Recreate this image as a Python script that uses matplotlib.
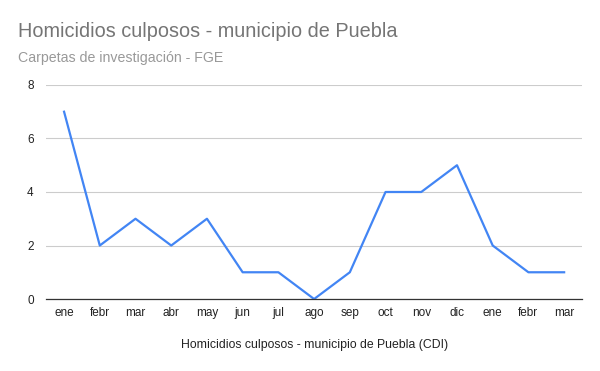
import matplotlib

matplotlib.use("Agg")
import matplotlib.pyplot as plt

plt.rcParams["font.family"] = ["Liberation Sans", "DejaVu Sans"]

months = ["ene", "febr", "mar", "abr", "may", "jun", "jul", "ago", "sep",
          "oct", "nov", "dic", "ene", "febr", "mar"]
cases = [7, 2, 3, 2, 3, 1, 1, 0, 1, 4, 4, 5, 2, 1, 1]
y_ticks = [0, 2, 4, 6, 8]

fig = plt.figure(figsize=(6, 3.71), dpi=100)
ax = fig.add_axes([0.077, 0.194, 0.893, 0.577])

x = range(len(months))
ax.plot(x, cases, color="#4285F4", linewidth=1.6)

ax.set_xlim(-0.5, len(months) - 0.5)
ax.set_ylim(0, 8)
ax.set_xticks(list(x), months)
ax.set_yticks(y_ticks)
ax.tick_params(length=0, labelsize=8.5, colors="#222222")
ax.tick_params(axis="y", pad=9)
ax.tick_params(axis="x", pad=6)
ax.grid(axis="y", color="#cccccc", linewidth=0.8)
ax.set_axisbelow(True)
for side in ["top", "right", "left"]:
    ax.spines[side].set_visible(False)
ax.spines["bottom"].set_color("#333333")
ax.spines["bottom"].set_linewidth(0.9)
ax.set_xlabel("Homicidios culposos - municipio de Puebla (CDI)", fontsize=8.8,
              color="#222222", labelpad=14)

fig.text(0.03, 0.915, "Homicidios culposos - municipio de Puebla", fontsize=14.3,
         color="#757575", va="center")
fig.text(0.03, 0.843, "Carpetas de investigación - FGE", fontsize=10.2,
         color="#999999", va="center")

fig.savefig("out.png", dpi=100)
